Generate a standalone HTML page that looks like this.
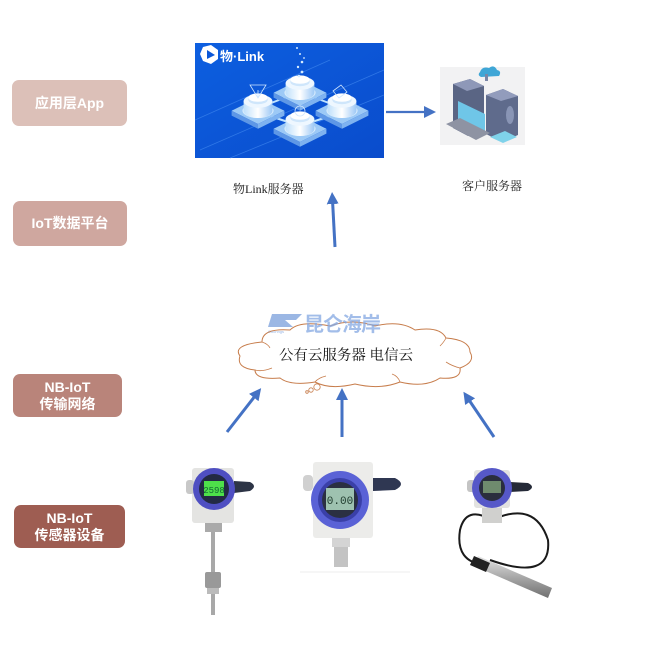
<!DOCTYPE html>
<html><head><meta charset="utf-8">
<style>
html,body{margin:0;padding:0;background:#fff;}
body{width:653px;height:649px;position:relative;overflow:hidden;font-family:"Liberation Sans","Noto Sans CJK SC",sans-serif;}
.lb{position:absolute;color:#fff;font-weight:bold;text-align:center;border-radius:7px;display:flex;align-items:center;justify-content:center;line-height:17px;font-size:14px;}
.cap{position:absolute;font-family:"Liberation Serif","Noto Serif CJK SC",serif;font-size:12px;color:#222;white-space:nowrap;}
svg{position:absolute;left:0;top:0;}
</style></head><body>
<div class="lb" style="left:12px;top:80px;width:115px;height:46px;background:#dcc0b8;">应用层App</div>
<div class="lb" style="left:13px;top:201px;width:114px;height:45px;background:#cfa79f;">IoT数据平台</div>
<div class="lb" style="left:13px;top:374px;width:109px;height:43px;background:#b9847a;">NB-IoT<br>传输网络</div>
<div class="lb" style="left:14px;top:505px;width:111px;height:43px;background:#9e5d52;">NB-IoT<br>传感器设备</div>

<div class="cap" style="left:233px;top:180px;">物Link服务器</div>
<div class="cap" style="left:462px;top:177px;">客户服务器</div>

<svg width="653" height="649" viewBox="0 0 653 649">
<defs>
<linearGradient id="bg" x1="0" y1="0" x2="1" y2="1">
<stop offset="0" stop-color="#0d5fe0"/><stop offset="1" stop-color="#0a4ccc"/></linearGradient>
<linearGradient id="cyl" x1="0" y1="0" x2="1" y2="0">
<stop offset="0" stop-color="#bfe0fb"/><stop offset="0.5" stop-color="#ffffff"/><stop offset="1" stop-color="#9dc8f5"/></linearGradient>
<linearGradient id="probe" x1="0" y1="0" x2="0" y2="1">
<stop offset="0" stop-color="#e6e6e6"/><stop offset="0.5" stop-color="#a8a8a8"/><stop offset="1" stop-color="#707070"/></linearGradient>
<marker id="ah" markerWidth="12" markerHeight="12" refX="2" refY="6" orient="auto" markerUnits="userSpaceOnUse"><path d="M0,0 L12,6 L0,12 z" fill="#4472c4"/></marker>
<g id="plat">
<path d="M-22,4 L0,-7 L22,4 L0,15 z" fill="#9cc9f6"/>
<path d="M-22,4 L0,15 L0,19 L-22,8 z" fill="#5e97e6"/>
<path d="M22,4 L0,15 L0,19 L22,8 z" fill="#7eb2f0"/>
<ellipse cx="0" cy="4" rx="13" ry="6" fill="#d8ecfd"/>
<path d="M-12,-4 L-12,4 A12,6 0 0 0 12,4 L12,-4 z" fill="url(#cyl)"/>
<ellipse cx="0" cy="-4" rx="12" ry="5.5" fill="#eef7ff"/>
<path d="M-8,-7 L-8,-5 A8,3.5 0 0 0 8,-5 L8,-7 z" fill="#cfe6fb"/>
<ellipse cx="0" cy="-7" rx="8" ry="3.5" fill="#ffffff"/>
</g>
</defs>

<!-- 物Link image -->
<rect x="195" y="43" width="189" height="115" fill="url(#bg)"/>
<g stroke="#3f86ee" stroke-width="0.8" opacity="0.7">
<line x1="200" y1="150" x2="384" y2="70"/>
<line x1="230" y1="158" x2="384" y2="95"/>
<line x1="195" y1="120" x2="330" y2="60"/>
</g>
<g stroke="#bfe3ff" stroke-width="2">
<line x1="258" y1="108" x2="300" y2="92"/>
<line x1="342" y1="108" x2="300" y2="92"/>
<line x1="258" y1="112" x2="300" y2="126"/>
<line x1="342" y1="112" x2="300" y2="126"/>
</g>
<use href="#plat" transform="translate(300,88) scale(1.2)"/>
<use href="#plat" transform="translate(258,106) scale(1.2)"/>
<use href="#plat" transform="translate(342,106) scale(1.2)"/>
<use href="#plat" transform="translate(300,124) scale(1.2)"/>
<g fill="#d6ecff"><circle cx="297" cy="48" r="1"/><circle cx="300" cy="54" r="1"/><circle cx="302" cy="62" r="1.3"/><circle cx="298" cy="67" r="1.2"/><circle cx="302" cy="72" r="1.4"/><circle cx="299" cy="76" r="1.3"/><circle cx="304" cy="58" r="0.9"/></g>
<path d="M250,85 L266,85 L258,98 z M258,98 L258,90" fill="none" stroke="#cfe6ff" stroke-width="0.8"/>
<path d="M333,91 L341,85 L347,92 L339,98 z" fill="none" stroke="#cfe6ff" stroke-width="0.8"/>
<circle cx="300" cy="111" r="5" fill="none" stroke="#cfe6ff" stroke-width="0.8"/>
<polygon points="203,47 211,45 218,50 218,59 211,64 203,61 200,54" fill="#fff"/>
<polygon points="207,50 215,55 207,59" fill="#0b57d8"/>
<text x="220" y="61" font-family="Liberation Sans, Noto Sans CJK SC, sans-serif" font-size="13" font-weight="bold" fill="#fff">物·Link</text>

<!-- right arrow -->
<line x1="386" y1="112" x2="426" y2="112" stroke="#4472c4" stroke-width="2.2" marker-end="url(#ah)"/>

<!-- customer server image -->
<rect x="440" y="67" width="85" height="78" fill="#f2f2f3"/>
<path d="M453,84 L470,79 L484,86 L484,130 L468,136 L453,128 z" fill="#5a6584"/>
<path d="M453,84 L470,79 L484,86 L467,91 z" fill="#8e98b8"/>
<path d="M486,95 L503,89 L518,96 L518,135 L502,142 L486,134 z" fill="#5f6b8c"/>
<path d="M486,95 L503,89 L518,96 L501,101 z" fill="#929cbc"/>
<ellipse cx="510" cy="115" rx="4" ry="9" fill="#8995b5"/>
<path d="M458,101 L485,114 L485,133 L458,121 z" fill="#6fc6e8"/>
<path d="M446,124 L460,118 L490,133 L476,140 z" fill="#8e93a3"/>
<path d="M490,137 L505,131 L517,137 L503,143 z" fill="#7fd2ea"/>
<path d="M480,72 Q482,66 489,68 Q494,64 497,70 Q502,71 499,76 L481,77 Q477,75 480,72 z" fill="#3fa6d6"/>
<rect x="485" y="74" width="3" height="7" fill="#7a86a6"/>

<!-- up arrow -->
<line x1="335" y1="247" x2="332.6" y2="202" stroke="#4472c4" stroke-width="3" marker-end="url(#ah)"/>

<!-- cloud -->
<path d="M262,342 Q262,328 290,330 Q300,320 330,326 Q352,318 375,326 Q400,320 415,330 Q440,326 446,338 Q470,340 470,352 Q476,362 460,368 Q462,380 440,378 Q425,388 400,382 Q380,390 355,384 Q330,390 315,382 Q290,386 280,378 Q255,380 255,370 Q236,368 240,356 Q232,345 262,342 z" fill="#fff" stroke="#c77d4c" stroke-width="1"/>
<g fill="none" stroke="#c77d4c" stroke-width="0.8">
<path d="M262,342 Q268,344 270,348"/>
<path d="M255,370 Q262,372 272,368"/>
<path d="M315,382 Q318,378 326,376"/>
<path d="M400,382 Q398,376 392,374"/>
<path d="M446,338 Q444,342 440,346"/>
<path d="M460,368 Q452,366 446,362"/>
</g>
<circle cx="317" cy="387" r="3.2" fill="#fff" stroke="#c77d4c" stroke-width="0.8"/>
<circle cx="311" cy="390" r="2.2" fill="#fff" stroke="#c77d4c" stroke-width="0.8"/>
<circle cx="307" cy="392" r="1.3" fill="#fff" stroke="#c77d4c" stroke-width="0.8"/>
<text x="346" y="360" text-anchor="middle" font-family="Liberation Serif, Noto Serif CJK SC, serif" font-size="14.5" fill="#111">公有云服务器 电信云</text>

<!-- logo watermark (over cloud) -->
<g opacity="0.75">
<path d="M272,314 L302,314 L296,320 L285,320 L293,327 L268,327 z" fill="#7aa0dc"/>
<text x="268" y="333" font-family="Liberation Sans, sans-serif" font-size="4" fill="#7aa0dc">Cuonngs</text>
<text x="304" y="331" font-family="Liberation Sans, Noto Sans CJK SC, sans-serif" font-size="20" font-weight="bold" fill="#84a8e2" letter-spacing="-1">昆仑海岸</text>
</g>

<!-- three arrows -->
<line x1="227" y1="432" x2="255" y2="396" stroke="#4472c4" stroke-width="3" marker-end="url(#ah)"/>
<line x1="342" y1="437" x2="342" y2="398" stroke="#4472c4" stroke-width="3" marker-end="url(#ah)"/>
<line x1="494" y1="437" x2="469" y2="400" stroke="#4472c4" stroke-width="3" marker-end="url(#ah)"/>

<!-- device 1 -->
<rect x="211" y="520" width="4" height="95" fill="#a8a8a8"/>
<rect x="205" y="572" width="16" height="16" rx="2" fill="#999"/>
<rect x="207" y="588" width="12" height="6" fill="#bbb"/>
<rect x="205" y="522" width="17" height="10" fill="#aaa"/>
<rect x="192" y="468" width="42" height="55" rx="3" fill="#e4e4e2"/>
<rect x="186" y="480" width="8" height="14" rx="3" fill="#c8c8c8"/>
<path d="M234,481 L250,482 Q258,486 250,491 L234,493 z" fill="#2d3446"/>
<circle cx="214" cy="489" r="21" fill="#4f4fc2"/>
<circle cx="214" cy="489" r="15" fill="#232a44"/>
<rect x="204" y="481" width="20" height="15" fill="#4ee04a"/>
<text x="214" y="493" text-anchor="middle" font-family="Liberation Mono, monospace" font-size="9" fill="#163">2598</text>

<!-- device 2 -->
<line x1="300" y1="572" x2="410" y2="572" stroke="#eee" stroke-width="1"/>
<rect x="332" y="535" width="18" height="12" fill="#d4d4d4"/>
<rect x="334" y="547" width="14" height="20" fill="#c3c3c3"/>
<rect x="313" y="462" width="60" height="76" rx="3" fill="#ececea"/>
<rect x="303" y="475" width="10" height="16" rx="4" fill="#d0d0d0"/>
<path d="M373,478 L395,478 Q407,484 395,490 L373,491 z" fill="#2f3752"/>
<circle cx="340" cy="500" r="29" fill="#5a62d6"/>
<circle cx="340" cy="500" r="22" fill="#3a40a8"/>
<circle cx="340" cy="500" r="18" fill="#2b3042"/>
<rect x="326" y="488" width="28" height="22" fill="#9ec2b0"/>
<text x="340" y="504" text-anchor="middle" font-family="Liberation Mono, monospace" font-size="11" fill="#1e3a2c">0.00</text>

<!-- device 3 -->
<path d="M492,520 Q466,505 460,530 Q455,562 485,565 M492,520 Q535,500 548,540 Q552,582 490,560" fill="none" stroke="#1a1a1a" stroke-width="2"/>
<path d="M478,556 L552,588 L548,598 L474,566 z" fill="url(#probe)"/>
<path d="M474,556 L490,563 L486,572 L470,565 z" fill="#222"/>
<rect x="482" y="505" width="20" height="18" fill="#d0d0ce"/>
<rect x="474" y="470" width="36" height="38" rx="3" fill="#e2e2e0"/>
<rect x="467" y="480" width="8" height="12" rx="3" fill="#c4c4c4"/>
<path d="M510,482 L528,483 Q536,487 528,491 L510,492 z" fill="#252a38"/>
<circle cx="492" cy="488" r="20" fill="#5658c8"/>
<circle cx="492" cy="488" r="13" fill="#2a2e3e"/>
<rect x="483" y="481" width="18" height="12" fill="#6f8b6e"/>
</svg>
</body></html>
